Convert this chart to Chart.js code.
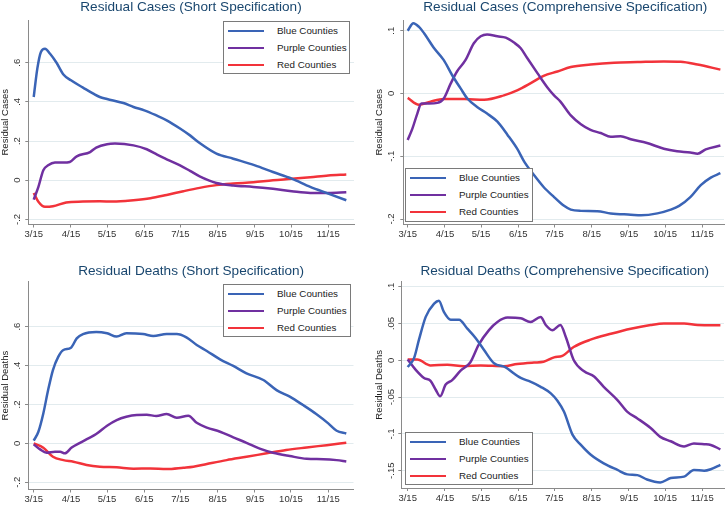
<!DOCTYPE html>
<html>
<head>
<meta charset="utf-8">
<script src="https://cdn.jsdelivr.net/npm/chart.js@4/dist/chart.umd.min.js"></script>
<style>
  html, body { margin:0; padding:0; background:#fff; }
  body { width:728px; height:505px; position:relative; overflow:hidden; font-family:'Liberation Sans', Arial, sans-serif; }
  canvas { position:absolute; }
  .ttl { position:absolute; width:400px; text-align:center; font-size:13.6px; line-height:16px; color:#1a476f; white-space:nowrap; }
  .lg { position:absolute; border:1px solid #7a7a7a; background:#fff; box-sizing:border-box; }
  .lg .row { position:absolute; left:0; right:0; height:12px; }
  .lg .sw { position:absolute; left:4px; width:36px; height:2px; top:5px; }
  .lg .tx { position:absolute; left:53px; top:0; font-size:9.8px; line-height:12px; color:#222; white-space:nowrap; }
</style>
</head>
<body>
<script>
// ---------- axis ticks ----------
const tickDays   = [0, 31, 61, 92, 122, 153, 184, 214, 245];
const tickLabels = ['3/15','4/15','5/15','6/15','7/15','8/15','9/15','10/15','11/15'];
const seriesNames = ['Blue Counties', 'Purple Counties', 'Red Counties'];

// ---------- Residual Cases (Short Specification) ----------
const csBlueDays = [0,3,6,9.4,13.6,19,24.7,31,41,49.6,55,61,74.6,83,92,102,110.6,122,130,138,152,166,184,199,214.6,230,245,260];
const csBlueVals = [0.425,0.57,0.655,0.671,0.646,0.60,0.54,0.51,0.473,0.442,0.425,0.415,0.394,0.374,0.357,0.331,0.306,0.263,0.229,0.19,0.136,0.11,0.076,0.042,0.008,-0.034,-0.068,-0.102];
const csPurpleDays = [0,3.9,8,12,17.7,24.7,30,35.8,46.9,52,61,67.6,83,94,102,110.6,121.7,130,138,152,166,182.7,199,214.6,230,245,260];
const csPurpleVals = [-0.099,-0.034,0.051,0.076,0.09,0.09,0.093,0.122,0.144,0.167,0.184,0.187,0.178,0.158,0.133,0.107,0.076,0.048,0.02,-0.014,-0.027,-0.034,-0.044,-0.056,-0.065,-0.065,-0.061];
const csRedDays = [0,3.9,9.4,16,27,41,55,66,83,97,110.6,124.5,138,152,166,182.7,199,214.6,230,245,260];
const csRedVals = [-0.065,-0.11,-0.136,-0.133,-0.114,-0.109,-0.107,-0.109,-0.102,-0.092,-0.075,-0.056,-0.039,-0.025,-0.017,-0.010,0,0.007,0.015,0.024,0.029];

// ---------- Residual Cases (Comprehensive Specification) ----------
const ccBlueDays = [0,4.7,9.4,13.6,22,30,37,44,49.6,58,66,74.6,83,91,97,105,113,121.7,130,135.6,144,157.7,168.8,185.5,194,207.6,218.7,225.7,235,243.7,252,260];
const ccBlueVals = [0.1,0.112,0.106,0.096,0.072,0.053,0.029,0.008,-0.008,-0.022,-0.032,-0.045,-0.066,-0.088,-0.109,-0.13,-0.149,-0.165,-0.179,-0.185,-0.187,-0.1875,-0.191,-0.193,-0.194,-0.191,-0.185,-0.179,-0.165,-0.146,-0.134,-0.127];
const ccPurpleDays = [0,3.9,8,11.4,17.7,24.7,30,35.8,41,48,55,60.7,66,74.6,81.5,88.4,94,99.5,108,116,121.7,127,135.6,144,152,160.5,168.8,177,185.5,199,213,224,235,241,247.8,260];
const ccPurpleVals = [-0.074,-0.056,-0.032,-0.016,-0.016,-0.015,-0.008,0.016,0.035,0.053,0.08,0.091,0.094,0.091,0.089,0.081,0.072,0.056,0.032,0.010,-0.003,-0.013,-0.035,-0.049,-0.058,-0.063,-0.069,-0.068,-0.073,-0.079,-0.088,-0.092,-0.094,-0.096,-0.089,-0.083];
const ccRedDays = [0,9.4,19,30,47,63.5,80,91,102,113,124.5,135.6,152,171.6,191,213,227,241,260];
const ccRedVals = [-0.007,-0.018,-0.013,-0.009,-0.009,-0.01,-0.003,0.005,0.016,0.028,0.035,0.042,0.046,0.049,0.05,0.051,0.0505,0.046,0.038];

// ---------- Residual Deaths (Short Specification) ----------
const dsBlueDays = [0,3.9,8,12,16,20.5,24.7,31,35.8,41,52,61,69,77,91,99.5,110.6,119,127,135.6,144,155,166,177,191,202,213,224,235,245,252,260];
const dsBlueVals = [0.014,0.06,0.154,0.274,0.377,0.446,0.48,0.492,0.54,0.562,0.573,0.566,0.549,0.566,0.562,0.552,0.562,0.562,0.545,0.506,0.475,0.432,0.398,0.36,0.326,0.274,0.24,0.197,0.151,0.103,0.065,0.051];
const dsPurpleDays = [0,5.3,10.8,17.7,22,26,31.6,38.5,45.5,52,61,69,77,85.7,94,102,110.6,119,128.6,135.6,144,155,166,177,188,199,213,227,241,252,260];
const dsPurpleVals = [-0.005,-0.031,-0.048,-0.043,-0.043,-0.051,-0.021,0.003,0.026,0.048,0.091,0.12,0.137,0.146,0.147,0.141,0.151,0.132,0.142,0.106,0.081,0.06,0.031,0.003,-0.027,-0.048,-0.065,-0.079,-0.081,-0.086,-0.093];
const dsRedDays = [0,8,16,24.7,33,44,55,69,83,97,110.6,124.5,132.8,144,160.5,177,193.8,210,227,243.7,260];
const dsRedVals = [0,-0.022,-0.069,-0.086,-0.094,-0.111,-0.12,-0.123,-0.13,-0.129,-0.132,-0.125,-0.12,-0.106,-0.086,-0.069,-0.051,-0.034,-0.021,-0.009,0.003];

// ---------- Residual Deaths (Comprehensive Specification) ----------
const dcBlueDays = [0,5.3,9.4,15,22,26,30,35.8,42.7,49.6,56.6,63.5,71.8,81.5,88.4,94,102,110.6,119,124.5,130,137,144,152,163,174.4,182.7,191,199,210,218.7,229.8,238,246.5,252,260];
const dcBlueVals = [-0.009,0.003,0.028,0.059,0.077,0.081,0.066,0.055,0.055,0.043,0.030,0.014,-0.004,-0.0095,-0.018,-0.024,-0.029,-0.036,-0.045,-0.055,-0.07,-0.101,-0.115,-0.128,-0.14,-0.149,-0.155,-0.156,-0.162,-0.166,-0.160,-0.158,-0.149,-0.150,-0.148,-0.142];
const dcPurpleDays = [0,6.7,13.6,19,23.3,27,31.6,37,44,52,59,67.6,74.6,83,94,102,110.6,114.8,120.3,127,131.4,138,146.7,155,163,174.4,182.7,191,202,210,218.7,229.8,238,246.5,252,260];
const dcPurpleVals = [0.001,-0.013,-0.024,-0.028,-0.040,-0.049,-0.033,-0.027,-0.014,-0.003,0.021,0.041,0.052,0.058,0.057,0.052,0.059,0.048,0.041,0.048,0.032,0.0005,-0.015,-0.022,-0.036,-0.054,-0.07,-0.079,-0.092,-0.104,-0.110,-0.117,-0.113,-0.114,-0.115,-0.121];
const dcRedDays = [0,8,19,33,47,60.7,80,91,105,113,121.7,128.6,138,152,168.8,185.5,202,213,229.8,241,260];
const dcRedVals = [0.001,0.001,-0.007,-0.006,-0.008,-0.007,-0.008,-0.005,-0.003,-0.002,0.004,0.006,0.018,0.028,0.036,0.043,0.048,0.050,0.050,0.048,0.0475];

// ---------- y ticks ----------
const yTicksShort = [-0.2, 0, 0.2, 0.4, 0.6];
const yTicksCasesComp = [-0.2, -0.1, 0, 0.1];
const yTicksDeathsComp = [-0.15, -0.1, -0.05, 0, 0.05, 0.1];

// ---------- styling ----------
const FONT = "'Liberation Sans', Arial, sans-serif";
const COLORS = ['#3a64b6', '#7030a0', '#f2333a'];
const AXIS = '#8a8a8a';
const GRID = '#e2ebee';

function pts(d, v) { return d.map((x, i) => ({ x: x, y: v[i] })); }
function fmt(v) {
  if (Math.abs(v) < 1e-9) return '0';
  let s = String(+v.toFixed(3));
  return s.replace('0.', '.');
}
const mctx = document.createElement('canvas').getContext('2d');
function widest(labels, size) {
  mctx.font = size + 'px ' + FONT;
  return Math.max(...labels.map(l => mctx.measureText(l).width));
}

const panels = [
  { left:0, top:0, w:364, h:252, yw:28.3, padTop:20, padRight:10, xh:27.5,
    xmin:-4.5, xmax:266.4, ymin:-0.226, ymax:0.818, yticks:yTicksShort, ytc:17.8, ytitle:'Residual Cases', ytp:0,
    series:[[csBlueDays,csBlueVals],[csPurpleDays,csPurpleVals],[csRedDays,csRedVals]],
    title:'Residual Cases (Short Specification)', tcx:191, tcy:7,
    lg:{x:223, y:21, w:127, h:53} },
  { left:364, top:0, w:364, h:252, yw:39.3, padTop:20, padRight:4, xh:27.5,
    xmin:-3.66, xmax:263, ymin:-0.2087, ymax:0.117, yticks:yTicksCasesComp, ytc:27.3, ytitle:'Residual Cases', ytp:9.5,
    series:[[ccBlueDays,ccBlueVals],[ccPurpleDays,ccPurpleVals],[ccRedDays,ccRedVals]],
    title:'Residual Cases (Comprehensive Specification)', tcx:565.3, tcy:7,
    lg:{x:405, y:168, w:128, h:54} },
  { left:0, top:252, w:364, h:253, yw:28, padTop:29.7, padRight:10.5, xh:15.5,
    xmin:-4.74, xmax:266, ymin:-0.237, ymax:0.831, yticks:yTicksShort, ytc:17.3, ytitle:'Residual Deaths', ytp:-0.5,
    series:[[dsBlueDays,dsBlueVals],[dsPurpleDays,dsPurpleVals],[dsRedDays,dsRedVals]],
    title:'Residual Deaths (Short Specification)', tcx:191.2, tcy:270.5,
    lg:{x:223, y:284, w:128, h:53} },
  { left:364, top:252, w:364, h:253, yw:37.3, padTop:29.7, padRight:4, xh:17,
    xmin:-5.3, xmax:263, ymin:-0.1735, ymax:0.1068, yticks:yTicksDeathsComp, ytc:27.3, ytitle:'Residual Deaths', ytp:9.5,
    series:[[dcBlueDays,dcBlueVals],[dcPurpleDays,dcPurpleVals],[dcRedDays,dcRedVals]],
    title:'Residual Deaths (Comprehensive Specification)', tcx:564.8, tcy:270.5,
    lg:{x:405, y:432, w:128, h:53} }
];

panels.forEach(p => {
  const cv = document.createElement('canvas');
  cv.width = p.w; cv.height = p.h;
  cv.style.left = p.left + 'px'; cv.style.top = p.top + 'px';
  cv.style.width = p.w + 'px'; cv.style.height = p.h + 'px';
  document.body.appendChild(cv);

  const TS = 9.5;
  const yLabels = p.yticks.map(fmt);
  const wd = widest(yLabels, TS);
  const yPad = p.yw - 3 - wd / 2 - p.ytc;

  new Chart(cv, {
    type: 'line',
    data: {
      datasets: p.series.map((s, i) => ({
        label: seriesNames[i],
        data: pts(s[0], s[1]),
        borderColor: COLORS[i],
        backgroundColor: COLORS[i],
        borderWidth: 2.5,
        pointRadius: 0,
        fill: false,
        cubicInterpolationMode: 'monotone'
      }))
    },
    options: {
      responsive: false,
      animation: false,
      devicePixelRatio: 1,
      layout: { padding: { left: 0, top: p.padTop, right: p.padRight, bottom: 0 } },
      plugins: { legend: { display: false }, title: { display: false }, tooltip: { enabled: false } },
      scales: {
        x: {
          type: 'linear', min: p.xmin, max: p.xmax, offset: false,
          afterBuildTicks: s => { s.ticks = tickDays.map(v => ({ value: v })); },
          afterFit: s => { s.height = p.xh; },
          ticks: { callback: (v, i) => tickLabels[i], autoSkip: false, maxRotation: 0, minRotation: 0,
                   padding: 1.3, color: '#333', font: { family: FONT, size: TS } },
          grid: { drawOnChartArea: false, drawTicks: true, tickLength: 3, tickColor: AXIS, color: AXIS },
          border: { display: true, color: AXIS, width: 1 }
        },
        y: {
          type: 'linear', min: p.ymin, max: p.ymax,
          afterBuildTicks: s => { s.ticks = p.yticks.map(v => ({ value: v })); },
          afterFit: s => { s.width = p.yw; },
          ticks: { callback: v => fmt(v), minRotation: 90, maxRotation: 90, crossAlign: 'center',
                   padding: yPad, color: '#333', font: { family: FONT, size: TS } },
          grid: { color: GRID, drawTicks: true, tickLength: 3, tickColor: AXIS, lineWidth: 1 },
          border: { display: true, color: AXIS, width: 1 },
          title: { display: true, text: p.ytitle, color: '#222',
                   font: { family: FONT, size: TS, lineHeight: 11 / TS },
                   padding: { top: p.ytp, bottom: 0 } }
        }
      }
    }
  });

  // title
  const t = document.createElement('div');
  t.className = 'ttl';
  t.textContent = p.title;
  t.style.left = (p.tcx - 200) + 'px';
  t.style.top = (p.tcy - 8) + 'px';
  document.body.appendChild(t);

  // legend
  const lg = document.createElement('div');
  lg.className = 'lg';
  lg.style.left = p.lg.x + 'px'; lg.style.top = p.lg.y + 'px';
  lg.style.width = p.lg.w + 'px'; lg.style.height = p.lg.h + 'px';
  const rowTops = [3, 20, 37];
  seriesNames.forEach((n, i) => {
    const r = document.createElement('div');
    r.className = 'row';
    r.style.top = rowTops[i] + 'px';
    const sw = document.createElement('div');
    sw.className = 'sw'; sw.style.background = COLORS[i];
    const tx = document.createElement('div');
    tx.className = 'tx'; tx.textContent = n;
    r.appendChild(sw); r.appendChild(tx);
    lg.appendChild(r);
  });
  document.body.appendChild(lg);
});
</script>
</body>
</html>
